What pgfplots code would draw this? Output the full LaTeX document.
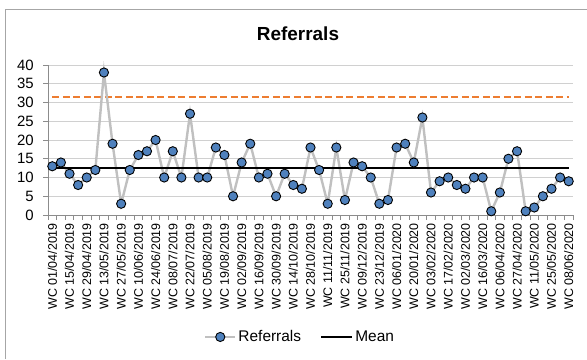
\documentclass[border=0pt]{standalone}
\usepackage{pgfplots}
\pgfplotsset{compat=1.18}
\usepackage{pgfplotstable}
\usepackage{fontspec}
\setmainfont{Liberation Sans}
\definecolor{ptblue}{HTML}{4F81BD}
\definecolor{linegray}{HTML}{C0C0C0}
\definecolor{ucl}{HTML}{ED7D31}
\definecolor{gridgray}{HTML}{D0D0D0}
\definecolor{axgray}{HTML}{8C8C8C}
\definecolor{framegray}{HTML}{A6A6A6}

\pgfplotsset{
  refleg/.style={legend image code/.code={\draw[mark repeat=2,mark phase=2,##1] plot coordinates {(0bp,0bp) (15bp,0bp) (30bp,0bp)};}},
  meanleg/.style={legend image code/.code={\draw[##1] (0bp,0bp) -- (31bp,0bp);}},
}

\pgfplotstableread{
x y
0 13
1 14
2 11
3 8
4 10
5 12
6 38
7 19
8 3
9 12
10 16
11 17
12 20
13 10
14 17
15 10
16 27
17 10
18 10
19 18
20 16
21 5
22 14
23 19
24 10
25 11
26 5
27 11
28 8
29 7
30 18
31 12
32 3
33 18
34 4
35 14
36 13
37 10
38 3
39 4
40 18
41 19
42 14
43 26
44 6
45 9
46 10
47 8
48 7
49 10
50 10
51 1
52 6
53 15
54 17
55 1
56 2
57 5
58 7
59 10
60 9
}\referrals

\pgfplotstableread{
x y
0 12.6
60 12.6
}\meanline

\pgfplotstableread{
x y
0 31.4
60 31.4
}\uclline

\begin{document}
\begin{tikzpicture}[x=1bp,y=1bp]
\path[use as bounding box] (0,0) rectangle (587,359);
\draw[framegray, line width=1bp] (5.5,0) -- (5.5,349.5) -- (587,349.5);
\node[font=\fontsize{19}{22}\selectfont\bfseries] at (298,325) {Referrals};
\begin{axis}[
  at={(48bp,144bp)}, anchor=south west,
  scale only axis, width=525bp, height=150bp,
  xmin=-0.5, xmax=60.5, ymin=0, ymax=40,
  ytick={0,5,...,40},
  ymajorgrids, major grid style={gridgray, line width=0.8bp},
  axis line style={axgray, line width=0.8bp},
  axis x line*=bottom, axis y line*=left,
  tick align=outside,
  major tick length=5bp, minor tick length=5bp,
  tick style={axgray, line width=0.8bp},
  xtick={0,2,...,60},
  major x tick style={draw=none},
  minor xtick={-0.5,0.5,...,60.5},
  xticklabels={WC 01/04/2019,WC 15/04/2019,WC 29/04/2019,WC 13/05/2019,WC 27/05/2019,WC 10/06/2019,WC 24/06/2019,WC 08/07/2019,WC 22/07/2019,WC 05/08/2019,WC 19/08/2019,WC 02/09/2019,WC 16/09/2019,WC 30/09/2019,WC 14/10/2019,WC 28/10/2019,WC 11/11/2019,WC 25/11/2019,WC 09/12/2019,WC 23/12/2019,WC 06/01/2020,WC 20/01/2020,WC 03/02/2020,WC 17/02/2020,WC 02/03/2020,WC 16/03/2020,WC 06/04/2020,WC 27/04/2020,WC 11/05/2020,WC 25/05/2020,WC 08/06/2020},
  xticklabel style={rotate=90, anchor=east, font=\fontsize{12.5}{14}\selectfont, inner sep=0pt},
  xticklabel shift=3bp,
  yticklabel style={font=\fontsize{15}{17}\selectfont, inner sep=0pt},
  yticklabel shift=9bp,
  /pgf/number format/assume math mode=true,
  legend style={at={(0.48,-0.813)}, anchor=center, draw=none, fill=none,
    legend columns=2, font=\fontsize{15.5}{18}\selectfont,
    /tikz/every even column/.append style={column sep=17bp},
    inner sep=0pt},
  legend cell align=left,
  clip=false,
]
\addplot[ucl, line width=2bp, dash pattern=on 7bp off 3.5bp, forget plot] table {\uclline};
\addplot[linegray, line width=2.4bp, mark=*, mark size=4.6bp,
  mark options={fill=ptblue, draw=black, line width=0.9bp}, refleg] table {\referrals};
\addlegendentry{Referrals}
\addplot[black, line width=2.2bp, meanleg] table {\meanline};
\addlegendentry{Mean}
\end{axis}
\end{tikzpicture}
\end{document}
